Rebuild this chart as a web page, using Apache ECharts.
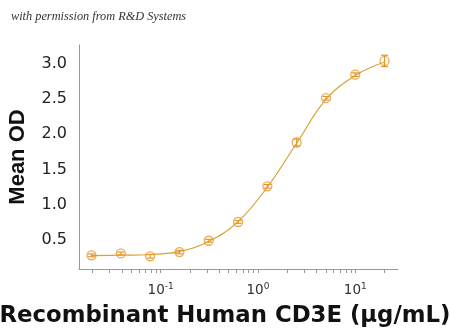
<!DOCTYPE html>
<html><head><meta charset="utf-8">
<script src="https://cdn.jsdelivr.net/npm/echarts@6/dist/echarts.min.js"></script>
<style>html,body{margin:0;padding:0;background:#fff}#c{width:450px;height:336px}</style>
</head><body><div id="c"></div>
<script>
var concentrations = [0.0195, 0.039, 0.078, 0.156, 0.3125, 0.625, 1.25, 2.5, 5, 10, 20];
var meanOD = [0.283, 0.31, 0.27, 0.33, 0.49, 0.755, 1.26, 1.88, 2.507, 2.84, 3.035];
var errOD = [0.02, 0.02, 0.025, 0.025, 0.02, 0.02, 0.025, 0.05, 0.025, 0.025, 0.08];
var fitOD = [0.28, 0.285, 0.295, 0.335, 0.48, 0.76, 1.25, 1.87, 2.49, 2.83, 3.02];
var xLabelTicks = [0.1, 1, 10];
var xAllTicks = [0.02,0.03,0.04,0.05,0.06,0.07,0.08,0.09,0.1,0.2,0.3,0.4,0.5,0.6,0.7,0.8,0.9,1,2,3,4,5,6,7,8,9,10,20];
var yLabelTicks = [0.5, 1.0, 1.5, 2.0, 2.5, 3.0];
var xMin = 0.0145, xMax = 27.5, yMin = 0.09, yMax = 3.26;
var orange = '#E6962A';
var lineColor = '#D9A232';

var pts = concentrations.map(function(c,i){return [c, meanOD[i]];});
var fit = concentrations.map(function(c,i){return [c, fitOD[i]];});
var errs = concentrations.map(function(c,i){return [c, meanOD[i]-errOD[i], meanOD[i]+errOD[i]];});

var chart = echarts.init(document.getElementById('c'));
chart.setOption({
  animation: false,
  title: {text: 'with permission from R&D Systems', left: 6, top: 6,
    textStyle: {fontFamily: 'Liberation Serif', fontStyle: 'italic', fontWeight: 'normal', fontSize: 12.3, color: '#333'}},
  grid: {left: 79, right: 52, top: 45, bottom: 67, outerBoundsMode: 'none', containLabel: false},
  xAxis: {
    type: 'log', min: xMin, max: xMax, logBase: 10,
    name: 'Recombinant Human CD3E (μg/mL)', nameLocation: 'middle', nameGap: 36,
    nameTextStyle: {fontFamily: 'DejaVu Sans', fontWeight: 'bold', fontSize: 22.8, color: '#111', padding: [0, 27, 0, 0]},
    axisLine: {lineStyle: {color: '#999', width: 1}},
    axisTick: {show: true, length: 4, customValues: xAllTicks, lineStyle: {color: '#999'}},
    splitLine: {show: false},
    axisLabel: {margin: 13, color: '#333', fontFamily: 'DejaVu Sans', fontSize: 13.5, customValues: xLabelTicks,
      formatter: function(v){ var e = Math.round(Math.log10(v)); return '10{s|' + e + '}'; },
      rich: {s: {fontSize: 9, verticalAlign: 'top', padding: [0,0,8,0], color: '#333', fontFamily: 'DejaVu Sans'}}}
  },
  yAxis: {
    type: 'value', min: yMin, max: yMax,
    name: 'Mean OD', nameLocation: 'middle', nameGap: 50,
    nameTextStyle: {fontFamily: 'Liberation Sans', fontWeight: 'bold', fontSize: 22, color: '#111'},
    axisLine: {show: true, lineStyle: {color: '#999', width: 1}},
    axisTick: {show: false},
    splitLine: {show: false},
    axisLabel: {margin: 12, color: '#222', fontFamily: 'DejaVu Sans', fontSize: 16, customValues: yLabelTicks,
      formatter: function(v){ return Number(v).toFixed(1); }}
  },
  series: [
    {type: 'line', data: fit, smooth: 0.4, showSymbol: false, lineStyle: {color: lineColor, width: 1.2}, silent: true, z: 1},
    {type: 'custom', data: errs, clip: false, silent: true, z: 3,
      renderItem: function(params, api){
        var x = api.value(0), lo = api.coord([x, api.value(1)]), hi = api.coord([x, api.value(2)]);
        var w = 3.5, st = {stroke: orange, lineWidth: 1.2};
        return {type: 'group', children: [
          {type: 'line', shape: {x1: lo[0], y1: lo[1], x2: hi[0], y2: hi[1]}, style: st},
          {type: 'line', shape: {x1: lo[0]-w, y1: lo[1], x2: lo[0]+w, y2: lo[1]}, style: st},
          {type: 'line', shape: {x1: hi[0]-w, y1: hi[1], x2: hi[0]+w, y2: hi[1]}, style: st}
        ]};
      }},
    {type: 'scatter', data: pts, symbol: 'circle', symbolSize: 9,
      itemStyle: {color: 'rgba(255,255,255,0)', borderColor: orange, borderWidth: 1.3}, z: 4, silent: true}
  ]
});
</script></body></html>
